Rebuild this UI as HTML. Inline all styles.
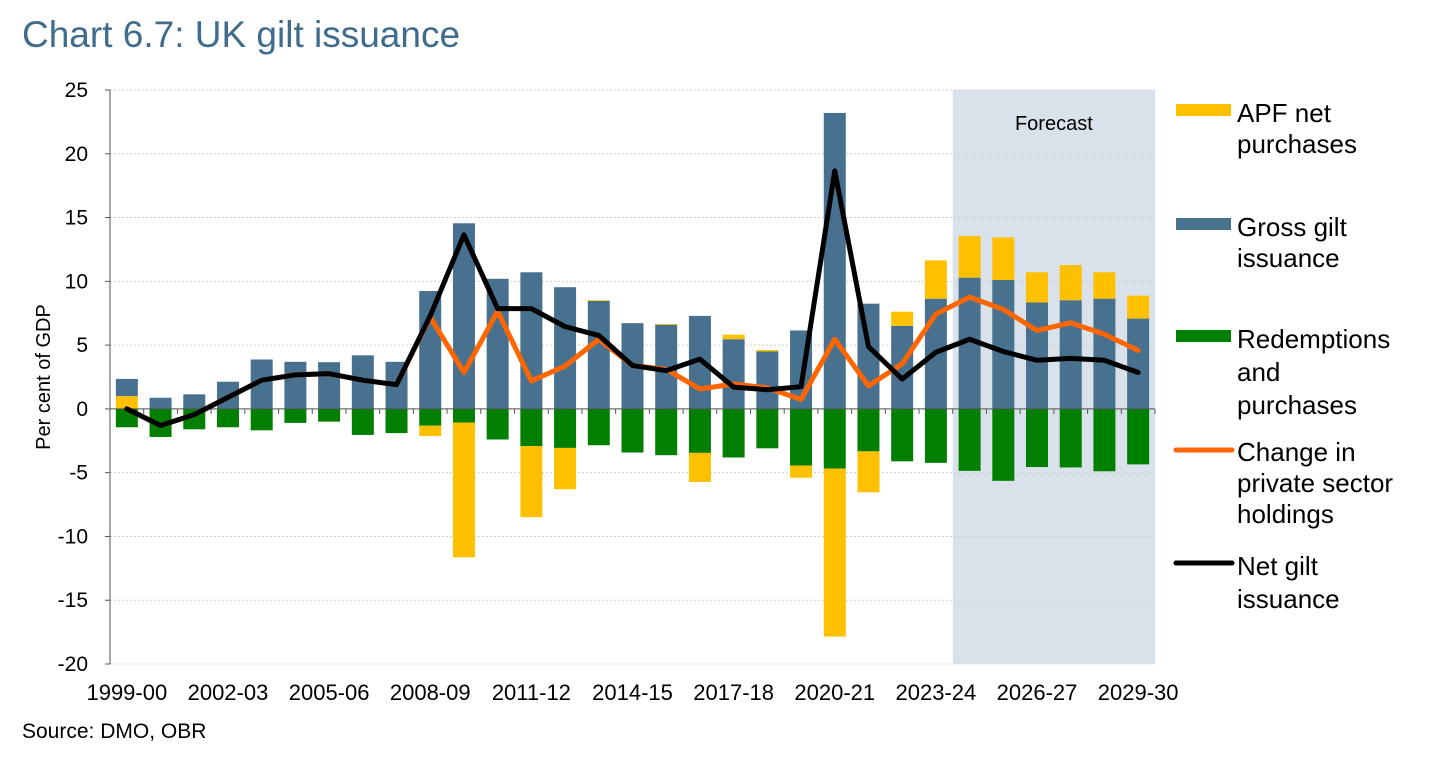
<!DOCTYPE html>
<html><head><meta charset="utf-8"><style>
body{margin:0;background:#fff;width:1456px;height:762px;overflow:hidden;font-family:"Liberation Sans",sans-serif}
svg{position:absolute;left:0;top:0}
</style></head><body>
<svg id="c" width="1456" height="762" xmlns="http://www.w3.org/2000/svg">
<text x="22" y="47" font-size="37" fill="#3f6c8c">Chart 6.7: UK gilt issuance</text>
<text x="22" y="738" font-size="21" fill="#000">Source: DMO, OBR</text>
<text transform="translate(50,377) rotate(-90)" text-anchor="middle" font-size="20">Per cent of GDP</text>
<g id="legend" font-size="26" fill="#000">
<rect x="1176" y="104" width="55" height="12" fill="#ffc000"/>
<text x="1237" y="122"><tspan x="1237">APF net</tspan><tspan x="1237" dy="31">purchases</tspan></text>
<rect x="1176" y="218" width="55" height="12" fill="#48708f"/>
<text x="1237" y="236"><tspan x="1237">Gross gilt</tspan><tspan x="1237" dy="31">issuance</tspan></text>
<rect x="1176" y="330" width="55" height="12" fill="#007f00"/>
<text x="1237" y="348"><tspan x="1237">Redemptions</tspan><tspan x="1237" dy="33">and</tspan><tspan x="1237" dy="33">purchases</tspan></text>
<line x1="1176" y1="450" x2="1232" y2="450" stroke="#ff6600" stroke-width="5" stroke-linecap="round"/>
<text x="1237" y="461"><tspan x="1237">Change in</tspan><tspan x="1237" dy="31">private sector</tspan><tspan x="1237" dy="31">holdings</tspan></text>
<line x1="1176" y1="563" x2="1232" y2="563" stroke="#000" stroke-width="5" stroke-linecap="round"/>
<text x="1237" y="575"><tspan x="1237">Net gilt</tspan><tspan x="1237" dy="33">issuance</tspan></text>
</g>
</svg>
<script>
const categories=["1999-00","2000-01","2001-02","2002-03","2003-04","2004-05","2005-06","2006-07","2007-08","2008-09","2009-10","2010-11","2011-12","2012-13","2013-14","2014-15","2015-16","2016-17","2017-18","2018-19","2019-20","2020-21","2021-22","2022-23","2023-24","2024-25","2025-26","2026-27","2027-28","2028-29","2029-30"];
const gross=[1.35,0.87,1.14,2.13,3.87,3.69,3.66,4.2,3.69,9.24,14.55,10.2,10.71,9.54,8.46,6.72,6.6,7.29,5.46,4.5,6.15,23.2,8.25,6.51,8.64,10.29,10.11,8.34,8.52,8.64,7.08];
const apfPos=[1.0,0,0,0,0,0,0,0,0,0,0,0,0,0,0.06,0,0.06,0,0.36,0.12,0,0,0,1.11,3.0,3.27,3.33,2.37,2.76,2.07,1.8];
const redemptions=[-1.44,-2.2,-1.6,-1.44,-1.68,-1.1,-1.0,-2.04,-1.9,-1.32,-1.08,-2.4,-2.91,-3.06,-2.85,-3.42,-3.63,-3.45,-3.81,-3.09,-4.44,-4.68,-3.33,-4.11,-4.23,-4.86,-5.64,-4.56,-4.59,-4.89,-4.35];
const apfNeg=[0,0,0,0,0,0,0,0,0,-0.81,-10.56,0,-5.58,-3.24,0,0,0,-2.28,0,0,-0.96,-13.17,-3.21,0,0,0,0,0,0,0,0];
const netIssuance=[0,-1.3,-0.45,0.9,2.25,2.67,2.76,2.25,1.9,7.3,13.65,7.86,7.86,6.45,5.76,3.4,3.0,3.9,1.71,1.5,1.74,18.66,4.89,2.34,4.44,5.46,4.5,3.81,3.96,3.81,2.85];
const privateHoldings=[0,-1.3,-0.45,0.9,2.25,2.67,2.76,2.25,1.9,7.2,2.85,7.65,2.19,3.36,5.46,3.4,3.1,1.56,1.95,1.65,0.75,5.46,1.8,3.54,7.44,8.76,7.8,6.15,6.75,5.85,4.59];
const yTicks=[25,20,15,10,5,0,-5,-10,-15,-20];
const forecastStart=25;

const NS="http://www.w3.org/2000/svg";
const svg=document.getElementById('c');
const L=110,R=1155,T=90,B=664,yMax=25,yMin=-20;
const step=(R-L)/categories.length,bw=22;
const y=v=>T+(yMax-v)*(B-T)/(yMax-yMin);
const xc=i=>L+step*(i+0.5);
function mk(tag,attrs,parent){const e=document.createElementNS(NS,tag);for(const k in attrs)e.setAttribute(k,attrs[k]);(parent||svg).appendChild(e);return e;}
const legend=document.getElementById('legend');

const shade=mk('rect',{x:L+step*forecastStart,y:T,width:R-(L+step*forecastStart),height:B-T,fill:'#d9e2ea'});


const ft=mk('text',{x:(L+step*forecastStart+R)/2,y:130,'text-anchor':'middle','font-size':20,fill:'#000'});
ft.textContent='Forecast';



yTicks.forEach(v=>{
  const g=mk('line',{x1:L,x2:R,y1:y(v),y2:y(v),stroke:'#d0d0d0','stroke-width':1,'stroke-dasharray':'2,2'});
  
  
  mk('line',{x1:L-5,x2:L,y1:y(v),y2:y(v),stroke:'#555'});
  const t=mk('text',{x:88,y:y(v)+7,'text-anchor':'end','font-size':21});
  t.textContent=v;
  
  
});
const ax=mk('line',{x1:L,x2:L,y1:T,y2:B,stroke:'#555'});



function bar(i,v0,v1,color,name){
  const r=mk('rect',{x:xc(i)-bw/2,y:y(Math.max(v0,v1)),width:bw,height:Math.abs(y(v0)-y(v1)),fill:color});
  
  
}
categories.forEach((c,i)=>{
  if(i===0){bar(i,0,apfPos[i],'#ffc000','bar-apf');bar(i,apfPos[i],apfPos[i]+gross[i],'#48708f','bar-gross');}
  else{bar(i,0,gross[i],'#48708f','bar-gross');if(apfPos[i])bar(i,gross[i],gross[i]+apfPos[i],'#ffc000','bar-apf');}
  bar(i,0,redemptions[i],'#007f00','bar-redemptions');
  if(apfNeg[i])bar(i,redemptions[i],redemptions[i]+apfNeg[i],'#ffc000','bar-apf');
});
const zl=mk('line',{x1:L,x2:R,y1:y(0),y2:y(0),stroke:'#555'});


for(let i=0;i<=categories.length;i++)mk('line',{x1:L+step*i,x2:L+step*i,y1:y(0),y2:y(0)+5,stroke:'#555'});

function line(arr,color,name){
  const p=mk('polyline',{points:arr.map((v,i)=>xc(i)+','+y(v)).join(' '),fill:'none',stroke:color,'stroke-width':5,'stroke-linejoin':'round','stroke-linecap':'round'});
  
  
}
line(privateHoldings,'#ff6600','line-private-sector-holdings');
line(netIssuance,'#000','line-net-gilt-issuance');

categories.forEach((c,i)=>{
  if(i%3!==0)return;
  const t=mk('text',{x:xc(i),y:700,'text-anchor':'middle','font-size':22});
  t.textContent=c;
  
  
});
svg.appendChild(legend);
</script>
</body></html>
